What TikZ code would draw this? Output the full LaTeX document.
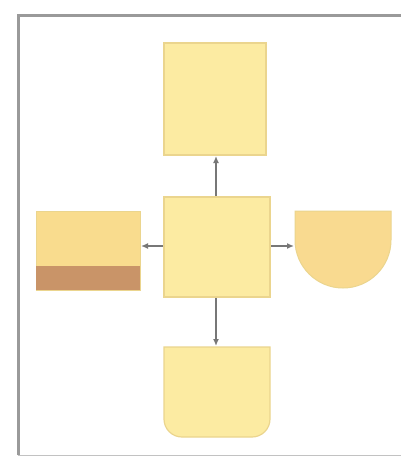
\documentclass[tikz,border=0pt]{standalone}
\usetikzlibrary{arrows.meta}
\definecolor{boxfill}{HTML}{FCEBA2}
\definecolor{boxline}{HTML}{EBD58E}
\definecolor{leftfill}{HTML}{F9DC8E}
\definecolor{bandfill}{HTML}{C99468}
\definecolor{rightfill}{HTML}{F9DA90}
\definecolor{framecol}{HTML}{9A9A9A}
\definecolor{arrowcol}{HTML}{777777}
\begin{document}
\begin{tikzpicture}[x=1pt,y=-1pt,
  shapebox/.style={fill=boxfill,draw=boxline,line width=1.2pt},
  conn/.style={draw=arrowcol,line width=1.5pt,-{Latex[length=7pt,width=6pt]}}]
\useasboundingbox (0,0) rectangle (400,458);
\fill[white] (0,0) rectangle (400,458);
% outer frame
\draw[framecol,line width=3pt] (18,455) -- (18,15) -- (403,15);
\draw[framecol!60,line width=1pt] (18,455) -- (403,455);
% top box
\path[shapebox] (164,43) rectangle (266,155);
\coordinate (topS) at (216,156);
% center box
\path[shapebox] (164,197) rectangle (270,297);
\coordinate (cN) at (216,196);
\coordinate (cS) at (216,298);
\coordinate (cW) at (163,246);
\coordinate (cE) at (271,246);
% left box
\path[fill=leftfill,draw=boxline,line width=1pt] (36,211) rectangle (140,290);
\path[fill=bandfill] (36,266) rectangle (140,290);
\coordinate (lE) at (141,246);
% right box
\path[fill=rightfill,draw=boxline,line width=1pt]
  (295,211) -- (391,211) -- (391,240) arc[start angle=0,end angle=180,x radius=48,y radius=48] -- cycle;
\coordinate (rW) at (294,246);
% bottom box
\path[shapebox] (164,347) {[rounded corners=18pt] -- (164,437) -- (270,437)} -- (270,347) -- cycle;
\coordinate (bN) at (216,346);
% connectors
\draw[conn] (cN) -- (topS);
\draw[conn] (cW) -- (lE);
\draw[conn] (cE) -- (rW);
\draw[conn] (cS) -- (bN);
\end{tikzpicture}
\end{document}
